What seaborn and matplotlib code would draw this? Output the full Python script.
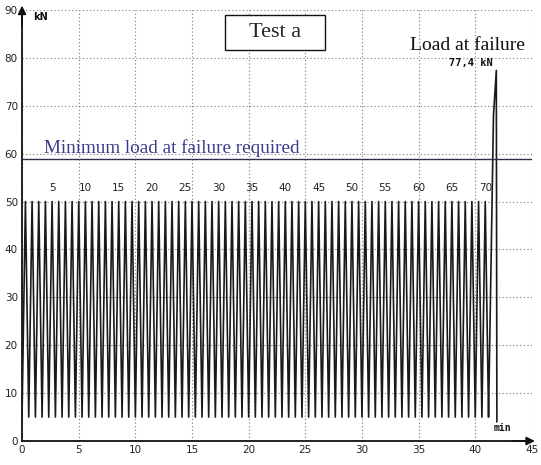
import numpy as np
import pandas as pd
import matplotlib
matplotlib.use("Agg")
import matplotlib.pyplot as plt
from matplotlib.patches import Rectangle
import seaborn as sns

# --- DATA ---
N_CYCLES = 70              # constant-amplitude cycles before the failure ramp
FIRST_PEAK_MIN = 0.30      # time of first peak [min]
CYCLE_PERIOD_MIN = 0.588   # time per cycle [min]
LOAD_MAX_KN = 50.0
LOAD_MIN_KN = 5.0

failure_t = [41.16, 41.60, 41.85, 41.90]   # final ramp to failure [min]
failure_load = [5.0, 68.0, 77.4, 4.0]     # [kN]

cycle_labels = [5, 10, 15, 20, 25, 30, 35, 40, 45, 50, 55, 60, 65, 70]
min_required_kN = 58.9
x_ticks = [0, 5, 10, 15, 20, 25, 30, 35, 40, 45]
y_ticks = [0, 10, 20, 30, 40, 50, 60, 70, 80, 90]

# --- build the cyclic trace (valley -> peak -> valley) ---
t, load = [0.0], [LOAD_MIN_KN]
for k in range(N_CYCLES):
    tp = FIRST_PEAK_MIN + k * CYCLE_PERIOD_MIN
    t += [tp, tp + CYCLE_PERIOD_MIN / 2]
    load += [LOAD_MAX_KN, LOAD_MIN_KN]
t += failure_t
load += failure_load
df = pd.DataFrame({"t": t, "load": load})

sns.set_style("white")
fig = plt.figure(figsize=(5.41, 4.65), dpi=100)
ax = fig.add_axes([0.0407, 0.0516, 0.9427, 0.9269])

sns.lineplot(data=df, x="t", y="load", sort=False, estimator=None,
             color="#1a1a1a", linewidth=1.2, ax=ax, zorder=3)

ax.set_xlim(0, 45)
ax.set_ylim(0, 90)
ax.set_xticks(x_ticks)
ax.set_yticks(y_ticks)
ax.tick_params(axis="both", labelsize=7.5, length=0, pad=3, colors="#222222")
ax.set_xlabel("")
ax.set_ylabel("")
ax.grid(True, color="#777777", linestyle=(0, (1, 2.2)), linewidth=0.8)
ax.set_axisbelow(True)

for s in ["top", "right"]:
    ax.spines[s].set_visible(False)
for s in ["left", "bottom"]:
    ax.spines[s].set_color("#111111")
    ax.spines[s].set_linewidth(1.3)

# arrow heads on the axes
ax.annotate("", xy=(0, 91.5), xytext=(0, 86), xycoords="data",
            arrowprops=dict(arrowstyle="-|>", color="#111111", lw=1.3,
                            mutation_scale=12), annotation_clip=False)
ax.annotate("", xy=(45.5, 0), xytext=(43, 0), xycoords="data",
            arrowprops=dict(arrowstyle="-|>", color="#111111", lw=1.3,
                            mutation_scale=12), annotation_clip=False)

# minimum load required
ax.axhline(min_required_kN, color="#2e2e48", linewidth=1.0, zorder=4)
ax.text(1.95, min_required_kN + 0.5, "Minimum load at failure required",
        family="Liberation Serif", fontsize=13.8, color="#3a3a8a",
        ha="left", va="bottom", zorder=5)

# cycle numbers
for c in cycle_labels:
    ax.text(FIRST_PEAK_MIN + (c - 1) * CYCLE_PERIOD_MIN, 52.8, str(c),
            fontsize=7.5, ha="center", va="center", color="#222222")

# title box
ax.add_patch(Rectangle((17.9, 81.6), 8.8, 7.3, facecolor="white",
                       edgecolor="#111111", linewidth=1.0, zorder=6))
ax.text(22.3, 85.2, "Test a", family="Liberation Serif", fontsize=16,
        ha="center", va="center", zorder=7)

ax.text(39.3, 82.6, "Load at failure", family="Liberation Serif",
        fontsize=14, ha="center", va="center", color="#111111")
ax.text(39.6, 79.0, "77,4 kN", family="DejaVu Sans Mono", fontsize=7.5,
        fontweight="bold", ha="center", va="center", color="#111111")
ax.text(1.0, 88.6, "kN", fontsize=7, fontweight="bold", ha="left",
        va="center", color="#111111")
ax.text(42.4, 2.7, "min", family="DejaVu Sans Mono", fontsize=7,
        fontweight="bold", ha="center", va="center", color="#111111")

fig.savefig("out.png", dpi=100)
